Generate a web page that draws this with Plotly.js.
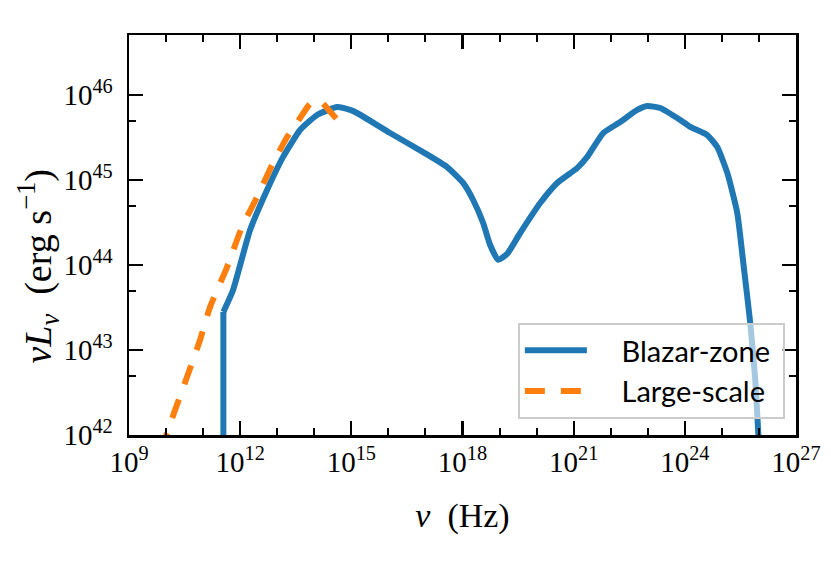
<!DOCTYPE html>
<html>
<head>
<meta charset="utf-8">
<script src="https://cdn.plot.ly/plotly-3.0.1.min.js"></script>
<style>html,body{margin:0;padding:0;background:#fff;}#chart{width:831px;height:565px;}</style>
</head>
<body>
<div id="chart"></div>
<script>
// Blazar-zone SED (nu in Hz, nuL_nu in erg/s); first point is the low-frequency cutoff
const blazarNu = [3.52e11, 3.52e11, 6.43e11, 1.85e12, 5.32e12, 1.44e13, 4.14e13, 1.19e14, 4.13e14, 9.27e14,
  1.43e15, 1.11e16, 8.65e16, 3.85e17, 1.04e18, 1.94e18, 3.61e18, 5.57e18, 9.16e18, 1.60e19,
  3.60e19, 1.25e20, 3.59e20, 1.24e21, 2.32e21, 6.27e21, 1.80e22, 5.19e22, 9.66e22, 2.17e23,
  7.52e23, 1.40e24, 4.03e24, 7.50e24, 1.40e25, 2.60e25, 3.78e25, 5.83e25, 7.96e25, 9.59e25, 1.15e26];
const blazarL = [1e41, 2.8e43, 5.08e43, 2.58e44, 7.62e44, 1.87e45, 3.87e45, 5.82e45, 7.23e45, 6.67e45,
  6.14e45, 3.57e45, 2.13e45, 1.42e45, 9.23e44, 5.82e44, 3.12e44, 1.72e44, 1.15e44, 1.35e44,
  2.38e44, 5.36e44, 9.23e44, 1.38e45, 1.87e45, 3.57e45, 4.81e45, 6.67e45, 7.43e45, 7.03e45,
  5.08e45, 4.21e45, 3.38e45, 2.44e45, 1.21e45, 4.09e44, 1.06e44, 2.08e43, 4.44e42, 1.06e42, 2e41];

// Large-scale jet SED
const largeNu = [7.0e9, 1.06e10, 1.75e10, 3.68e10, 8.26e10, 1.54e11, 4.43e11, 1.12e12, 2.86e12, 7.26e12,
  1.85e13, 4.14e13, 7.0e13, 1.05e14, 1.5e14, 3.22e14, 7.69e14];
const largeL = [6.3e41, 1.06e42, 1.97e42, 4.81e42, 1.31e43, 3.21e43, 9.46e43, 2.80e44, 6.31e44, 1.50e45,
  3.21e45, 5.36e45, 7.5e45, 8.7e45, 8.4e45, 5.82e45, 3.87e45];

// Tick definitions
const xTickVals = [1e9, 1e12, 1e15, 1e18, 1e21, 1e24, 1e27];
const xTickText = ['10<sup>9</sup>', '10<sup>12</sup>', '10<sup>15</sup>', '10<sup>18</sup>', '10<sup>21</sup>', '10<sup>24</sup>', '10<sup>27</sup>'];
const xMinorVals = [1e10, 1e11, 1e13, 1e14, 1e16, 1e17, 1e19, 1e20, 1e22, 1e23, 1e25, 1e26];
const yTickVals = [1e42, 1e43, 1e44, 1e45, 1e46];
const yTickText = ['10<sup>42</sup>', '10<sup>43</sup>', '10<sup>44</sup>', '10<sup>45</sup>', '10<sup>46</sup>'];
const yMinorVals = [5e42, 5e43, 5e44, 5e45, 5e46];

const serif = 'Liberation Serif, DejaVu Serif, serif';
const blue = '#1f77b4', orange = '#ff7f0e';
const pad = '\u00a0\u00a0\u00a0\u00a0';
const traces = [
  // sharp cutoff drawn straight
  {x: blazarNu.slice(0, 2), y: blazarL.slice(0, 2), mode: 'lines', type: 'scatter', showlegend: false,
   line: {color: blue, width: 6}},
  {x: blazarNu.slice(1), y: blazarL.slice(1), name: pad + 'Blazar-zone\u00a0', mode: 'lines', type: 'scatter',
   line: {color: blue, width: 6, shape: 'spline', smoothing: 0.5}},
  {x: largeNu, y: largeL, name: pad + 'Large-scale\u00a0', mode: 'lines', type: 'scatter',
   line: {color: orange, width: 6, dash: '20px,16px', shape: 'spline', smoothing: 0.5}}
];

const axisCommon = {
  type: 'log', showgrid: false, zeroline: false,
  showline: true, linecolor: '#000', linewidth: 2.5, mirror: 'allticks',
  ticks: 'inside', ticklen: 14, tickwidth: 2.2, tickcolor: '#000',
  tickfont: {family: serif, size: 29, color: '#000'},
  tickmode: 'array'
};

const layout = {
  width: 831, height: 565,
  margin: {l: 129, r: 35, t: 35, b: 130},
  paper_bgcolor: '#fff', plot_bgcolor: '#fff',
  showlegend: true,
  legend: {
    x: 0.583, y: 0.28, xanchor: 'left', yanchor: 'top',
    bgcolor: 'rgba(255,255,255,0.6)', bordercolor: '#cccccc', borderwidth: 2,
    itemwidth: 62,
    font: {family: 'Lato, Open Sans, sans-serif', size: 29, color: '#000'}
  },
  xaxis: Object.assign({}, axisCommon, {
    range: [9, 27], tickvals: xTickVals, ticktext: xTickText,
    minor: {tickvals: xMinorVals, ticks: 'inside', ticklen: 7, tickwidth: 2, tickcolor: '#000'},
    ticklabelstandoff: 0,
    title: {text: '<i>ν</i>&nbsp;&nbsp;(Hz)', font: {family: serif, size: 34, color: '#000'}, standoff: 26}
  }),
  yaxis: Object.assign({}, axisCommon, {
    range: [42, 46.706], tickvals: yTickVals, ticktext: yTickText,
    minor: {tickvals: yMinorVals, ticks: 'inside', ticklen: 7, tickwidth: 2, tickcolor: '#000'},
    ticklabelstandoff: 8
  }),
  annotations: [{
    xref: 'paper', yref: 'paper', x: -0.137, y: 0.4225, xanchor: 'center', yanchor: 'middle',
    textangle: -90, showarrow: false,
    text: '<i>νL<sub>ν</sub></i>&nbsp;&nbsp;(erg&nbsp;s<sup>−1</sup>)',
    font: {family: serif, size: 38, color: '#000'}
  }]
};

Plotly.newPlot('chart', traces, layout, {displayModeBar: false, staticPlot: true});
</script>
</body>
</html>
